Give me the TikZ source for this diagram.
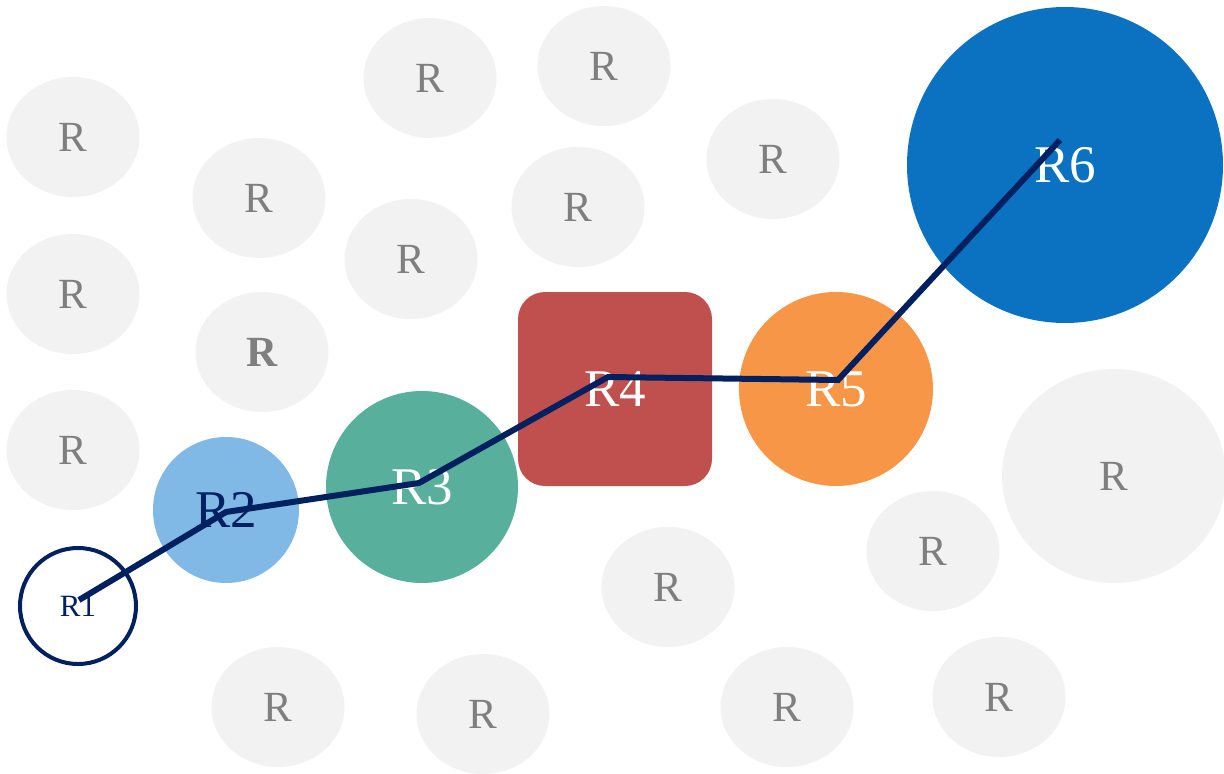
\documentclass[tikz,border=0pt]{standalone}
\usepackage{fontspec}
\setmainfont{Liberation Serif}
\usetikzlibrary{shapes.geometric}
\definecolor{navy}{HTML}{002060}
\definecolor{bggray}{HTML}{F2F2F2}
\definecolor{txtgray}{HTML}{7F7F7F}
\definecolor{rtwo}{RGB}{128,184,230}
\definecolor{rthree}{RGB}{88,176,156}
\definecolor{rfour}{HTML}{C0504D}
\definecolor{rfive}{HTML}{F79646}
\definecolor{rsix}{HTML}{0A72C1}
\begin{document}
\begin{tikzpicture}[x=1pt,y=-1pt,
    rbg/.style={ellipse,fill=bggray,text=txtgray,inner sep=0,minimum width=133,minimum height=120,font=\fontsize{43}{43}\selectfont},
    rbig/.style={circle,inner sep=0,text=white,font=\fontsize{53}{53}\selectfont}]
  \useasboundingbox (0,0) rectangle (1224,774);
  % background regions
  \node[rbg] (a) at (73,137) {R};
  \node[rbg] (b) at (430,78) {R};
  \node[rbg] (c) at (604,66) {R};
  \node[rbg] (d) at (259,198) {R};
  \node[rbg] (e) at (773,159) {R};
  \node[rbg] (f) at (578,207) {R};
  \node[rbg] (g) at (73,294) {R};
  \node[rbg] (h) at (411,259) {R};
  \node[rbg,font=\fontsize{43}{43}\selectfont\bfseries] (i) at (262,352) {R};
  \node[rbg] (j) at (73,450) {R};
  \node[rbg] (k) at (668,587) {R};
  \node[rbg] (l) at (933,551) {R};
  \node[rbg,minimum width=224,minimum height=214] (m) at (1114,476) {R};
  \node[rbg] (n) at (278,707) {R};
  \node[rbg] (o) at (483,714) {R};
  \node[rbg] (p) at (787,707) {R};
  \node[rbg] (q) at (999,697) {R};
  % path regions
  \node[circle,draw=navy,line width=4,inner sep=0,minimum size=116,text=navy,font=\fontsize{31}{31}\selectfont] (r1) at (78,606) {R1};
  \node[rbig,fill=rtwo,minimum size=146,text=navy] (r2) at (226,510) {R2};
  \node[rbig,fill=rthree,minimum size=192] (r3) at (422,487) {R3};
  \node[rectangle,rounded corners=27,fill=rfour,inner sep=0,minimum size=194,text=white,font=\fontsize{53}{53}\selectfont] (r4) at (615,389) {R4};
  \node[rbig,fill=rfive,minimum size=194] (r5) at (836,389) {R5};
  \node[rbig,fill=rsix,minimum size=316] (r6) at (1065,165) {R6};
  \coordinate (p1) at (79,600);
  \coordinate (p2) at (226,512);
  \coordinate (p3) at (419,483);
  \coordinate (p4) at (608,377);
  \coordinate (p5) at (838,380);
  \coordinate (p6) at (1060,140);
  \draw[navy,line width=6] (p1) -- (p2) -- (p3) -- (p4) -- (p5) -- (p6);
\end{tikzpicture}
\end{document}
